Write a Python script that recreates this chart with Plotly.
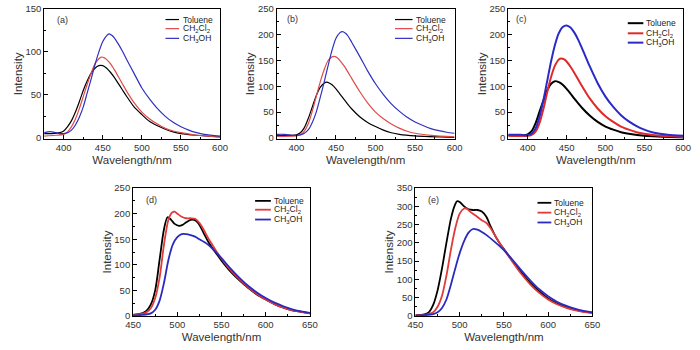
import plotly.graph_objects as go

# ---------------- data ----------------
# (a)
a_tol_x = [375, 385, 395, 400, 405, 410, 415, 420, 425, 430, 435, 440, 445, 450, 455, 460, 465, 470, 475, 480, 490, 500, 510, 520, 530, 540, 550, 570, 600]
a_tol_y = [5, 5, 6, 8, 13, 20, 30, 42, 55, 66, 75, 81, 84, 84, 81, 76, 70, 63, 56, 49, 36, 27, 19, 14, 10, 7, 5, 3, 1]
a_dcm_x = [375, 390, 400, 405, 410, 415, 420, 425, 430, 435, 440, 445, 448, 452, 455, 460, 465, 470, 475, 480, 490, 500, 510, 520, 530, 540, 550, 570, 600]
a_dcm_y = [2, 3, 4, 7, 13, 22, 34, 48, 62, 75, 86, 92, 94, 93, 91, 86, 79, 71, 63, 55, 41, 30, 22, 16, 11, 8, 6, 3, 1]
a_meoh_x = [375, 380, 385, 390, 395, 400, 405, 410, 415, 420, 425, 430, 435, 440, 445, 450, 455, 458, 462, 465, 470, 475, 480, 490, 500, 510, 520, 530, 540, 550, 560, 570, 580, 600]
a_meoh_y = [6, 7, 7, 6, 5, 5, 6, 9, 15, 24, 36, 52, 68, 85, 100, 112, 119, 121, 119, 116, 109, 101, 92, 75, 58, 45, 34, 25, 18, 13, 9, 6, 4, 2]

# (b)
b_tol_x = [375, 395, 400, 405, 410, 415, 420, 425, 430, 435, 438, 442, 445, 450, 455, 460, 465, 470, 480, 490, 500, 510, 520, 530, 550, 600]
b_tol_y = [5, 5, 6, 10, 20, 38, 60, 82, 98, 106, 108, 106, 103, 95, 85, 75, 65, 56, 41, 30, 22, 15, 10, 7, 4, 1]
b_dcm_x = [375, 400, 405, 410, 415, 420, 425, 430, 435, 440, 445, 448, 452, 455, 460, 465, 470, 480, 490, 500, 510, 520, 530, 540, 550, 570, 600]
b_dcm_y = [3, 4, 6, 13, 28, 52, 80, 108, 132, 150, 157, 158, 155, 150, 140, 128, 115, 90, 68, 50, 37, 27, 19, 13, 9, 5, 2]
b_meoh_x = [375, 385, 395, 400, 405, 410, 415, 420, 425, 430, 435, 440, 445, 450, 455, 458, 462, 465, 470, 480, 490, 500, 510, 520, 530, 540, 550, 560, 570, 580, 590, 600]
b_meoh_y = [7, 7, 5, 5, 6, 9, 16, 30, 50, 78, 108, 140, 170, 193, 204, 206, 203, 198, 185, 158, 130, 105, 84, 66, 52, 40, 31, 24, 18, 14, 11, 9]

# (c)
c_tol_x = [375, 395, 400, 405, 410, 415, 420, 425, 430, 435, 440, 445, 450, 455, 460, 470, 480, 490, 500, 510, 520, 530, 550, 600]
c_tol_y = [5, 5, 7, 13, 28, 50, 72, 92, 105, 110, 108, 103, 95, 86, 76, 58, 43, 31, 22, 16, 11, 8, 4, 1]
c_dcm_x = [375, 400, 405, 410, 415, 420, 425, 430, 435, 440, 443, 447, 450, 455, 460, 470, 480, 490, 500, 510, 520, 530, 540, 550, 570, 600]
c_dcm_y = [4, 4, 6, 12, 28, 55, 88, 118, 140, 152, 154, 152, 148, 138, 126, 100, 76, 57, 42, 31, 22, 16, 11, 8, 4, 2]
c_meoh_x = [375, 390, 400, 405, 410, 415, 420, 425, 430, 435, 440, 445, 450, 455, 460, 465, 470, 480, 490, 500, 510, 520, 530, 540, 550, 560, 570, 580, 600]
c_meoh_y = [6, 6, 5, 8, 18, 40, 72, 110, 148, 180, 203, 215, 218, 214, 204, 190, 173, 138, 106, 80, 60, 44, 32, 23, 16, 11, 8, 6, 4]

# (d)
d_tol_x = [450, 460, 465, 470, 475, 480, 485, 489, 493, 497, 502, 506, 510, 515, 519, 523, 527, 531, 535, 540, 545, 550, 560, 570, 580, 590, 600, 610, 620, 630, 640, 650]
d_tol_y = [2, 5, 10, 22, 50, 110, 170, 193, 188, 180, 176, 178, 183, 188, 188, 183, 172, 158, 145, 132, 120, 108, 87, 70, 55, 42, 32, 23, 16, 11, 8, 5]
d_dcm_x = [450, 460, 465, 470, 475, 480, 485, 490, 494, 497, 500, 505, 510, 515, 520, 525, 530, 535, 540, 545, 550, 560, 570, 580, 590, 600, 610, 620, 630, 640, 650]
d_dcm_y = [2, 4, 7, 15, 35, 75, 140, 188, 202, 204, 200, 194, 191, 191, 190, 182, 168, 152, 138, 124, 112, 90, 72, 56, 43, 32, 23, 16, 11, 8, 5]
d_meoh_x = [450, 460, 470, 475, 480, 485, 490, 495, 500, 505, 510, 515, 520, 525, 530, 535, 540, 550, 560, 570, 580, 590, 600, 610, 620, 630, 640, 650]
d_meoh_y = [1, 2, 5, 12, 30, 65, 110, 140, 154, 160, 160, 158, 155, 150, 145, 139, 131, 113, 93, 75, 59, 46, 35, 26, 19, 13, 9, 6]

# (e)
e_tol_x = [450, 460, 465, 470, 475, 480, 485, 490, 494, 497, 500, 505, 510, 515, 520, 525, 530, 535, 540, 545, 550, 560, 570, 580, 590, 600, 610, 620, 630, 640, 650]
e_tol_y = [2, 4, 10, 30, 70, 130, 200, 265, 300, 314, 312, 300, 292, 290, 290, 286, 272, 245, 220, 200, 183, 150, 118, 90, 67, 48, 34, 24, 17, 12, 9]
e_dcm_x = [450, 460, 470, 475, 480, 485, 490, 495, 500, 505, 508, 512, 518, 525, 530, 535, 540, 545, 550, 560, 570, 580, 590, 600, 610, 620, 630, 640, 650]
e_dcm_y = [2, 3, 10, 25, 55, 110, 180, 240, 280, 294, 294, 285, 275, 262, 255, 240, 220, 200, 182, 147, 114, 86, 63, 45, 32, 23, 16, 11, 8]
e_meoh_x = [450, 460, 470, 475, 480, 485, 490, 495, 500, 505, 510, 515, 520, 525, 530, 540, 550, 560, 570, 580, 590, 600, 610, 620, 630, 640, 650]
e_meoh_y = [1, 2, 5, 10, 22, 45, 85, 130, 172, 205, 228, 238, 236, 230, 222, 202, 180, 153, 124, 97, 73, 54, 39, 28, 20, 14, 10]

series_names = ["Toluene", "CH<sub>2</sub>Cl<sub>2</sub>", "CH<sub>3</sub>OH"]
panel_labels = ["(a)", "(b)", "(c)", "(d)", "(e)"]
x_tick_vals_top = [400, 450, 500, 550, 600]
x_tick_vals_bot = [450, 500, 550, 600, 650]

TOP_ROW_Y = [1 - 137/350, 1 - 3/350]
BOT_ROW_Y = [1 - 320/350, 1 - 188/350]

panels = [
    dict(data=[(a_tol_x, a_tol_y), (a_dcm_x, a_dcm_y), (a_meoh_x, a_meoh_y)],
         xd=[37/700, 217/700], yd=TOP_ROW_Y, xr=[375, 600], yr=[-1, 150],
         xt=x_tick_vals_top, yt=[0, 50, 100, 150], lw=1.2, red="#e04a4a", blue="#3030c0",
         leg=(0.69, 0.767, 0.778, [0.918, 0.848, 0.773]), lab=(0.06, 0.915)),
    dict(data=[(b_tol_x, b_tol_y), (b_dcm_x, b_dcm_y), (b_meoh_x, b_meoh_y)],
         xd=[275/700, 457/700], yd=TOP_ROW_Y, xr=[375, 600], yr=[-1.5, 250],
         xt=x_tick_vals_top, yt=[0, 50, 100, 150, 200, 250], lw=1.2, red="#e04a4a", blue="#3030c0",
         leg=(0.665, 0.764, 0.77, [0.918, 0.848, 0.773]), lab=(0.045, 0.925)),
    dict(data=[(c_tol_x, c_tol_y), (c_dcm_x, c_dcm_y), (c_meoh_x, c_meoh_y)],
         xd=[512/700, 691/700], yd=TOP_ROW_Y, xr=[375, 600], yr=[-1.5, 250],
         xt=x_tick_vals_top, yt=[0, 50, 100, 150, 200, 250], lw=2.0, red="#e02a2a", blue="#2a2ac8",
         leg=(0.683, 0.772, 0.778, [0.89, 0.812, 0.74]), lab=(0.035, 0.925)),
    dict(data=[(d_tol_x, d_tol_y), (d_dcm_x, d_dcm_y), (d_meoh_x, d_meoh_y)],
         xd=[128/700, 309/700], yd=BOT_ROW_Y, xr=[450, 650], yr=[0, 250],
         xt=x_tick_vals_bot, yt=[0, 50, 100, 150, 200, 250], lw=1.8, red="#e03a3a", blue="#2a2ac0",
         leg=(0.69, 0.779, 0.785, [0.9, 0.831, 0.754]), lab=(0.06, 0.91)),
    dict(data=[(e_tol_x, e_tol_y), (e_dcm_x, e_dcm_y), (e_meoh_x, e_meoh_y)],
         xd=[417/700, 598/700], yd=BOT_ROW_Y, xr=[450, 650], yr=[0, 350],
         xt=x_tick_vals_bot, yt=[0, 50, 100, 150, 200, 250, 300, 350], lw=1.8, red="#e03a3a", blue="#2a2ac0",
         leg=(0.69, 0.768, 0.773, [0.885, 0.808, 0.731]), lab=(0.06, 0.91)),
]

fig = go.Figure()
font_family = "Liberation Sans, Arial, sans-serif"

for i, p in enumerate(panels):
    n = "" if i == 0 else str(i + 1)
    xa, ya = "x" + n, "y" + n
    colors = ["#000000", p["red"], p["blue"]]
    for (xs, ys), name, col in zip(p["data"], series_names, colors):
        fig.add_trace(go.Scatter(x=xs, y=ys, mode="lines", name=name,
                                 line=dict(color=col, width=p["lw"], shape="spline", smoothing=0.8),
                                 xaxis=xa, yaxis=ya, showlegend=False, hoverinfo="skip"))
    axis_common = dict(showline=True, linecolor="black", linewidth=1, mirror=True,
                       ticks="inside", ticklen=4, tickcolor="black", showgrid=False, zeroline=False,
                       tickfont=dict(family=font_family, size=9.5, color="#333333"))
    fig.layout["xaxis" + n] = dict(domain=p["xd"], range=p["xr"], anchor=ya, tickvals=p["xt"],
                                   minor=dict(ticks="inside", ticklen=2, dtick=25, tickcolor="black"),
                                   title=dict(text="Wavelength/nm", standoff=3,
                                              font=dict(family=font_family, size=11.5, color="#333333")),
                                   **axis_common)
    fig.layout["yaxis" + n] = dict(domain=p["yd"], range=p["yr"], anchor=xa, tickvals=p["yt"],
                                   minor=dict(ticks="inside", ticklen=2, dtick=25, tickcolor="black"),
                                   title=dict(text="Intensity", standoff=0,
                                              font=dict(family=font_family, size=11.5, color="#333333")),
                                   **axis_common)
    # legend drawn inside the plot area
    x0, x1, xt, rows = p["leg"]
    for name, col, yy in zip(series_names, colors, rows):
        fig.add_shape(type="line", xref=xa + " domain", yref=ya + " domain",
                      x0=x0, x1=x1, y0=yy, y1=yy, line=dict(color=col, width=p["lw"]))
        fig.add_annotation(xref=xa + " domain", yref=ya + " domain", x=xt, y=yy, text=name,
                           showarrow=False, xanchor="left", yanchor="middle",
                           font=dict(family=font_family, size=8.5, color="#222222"))
    lx, ly = p["lab"]
    fig.add_annotation(xref=xa + " domain", yref=ya + " domain", x=lx, y=ly, text=panel_labels[i],
                       showarrow=False, xanchor="left", yanchor="middle",
                       font=dict(family=font_family, size=9, color="#333333"))

fig.update_layout(width=700, height=350, margin=dict(l=0, r=0, t=0, b=0),
                  paper_bgcolor="white", plot_bgcolor="white", showlegend=False)

fig.write_html("out.html", config={"displayModeBar": False},
               post_script="document.body.style.margin='0';document.body.style.overflow='hidden';")
